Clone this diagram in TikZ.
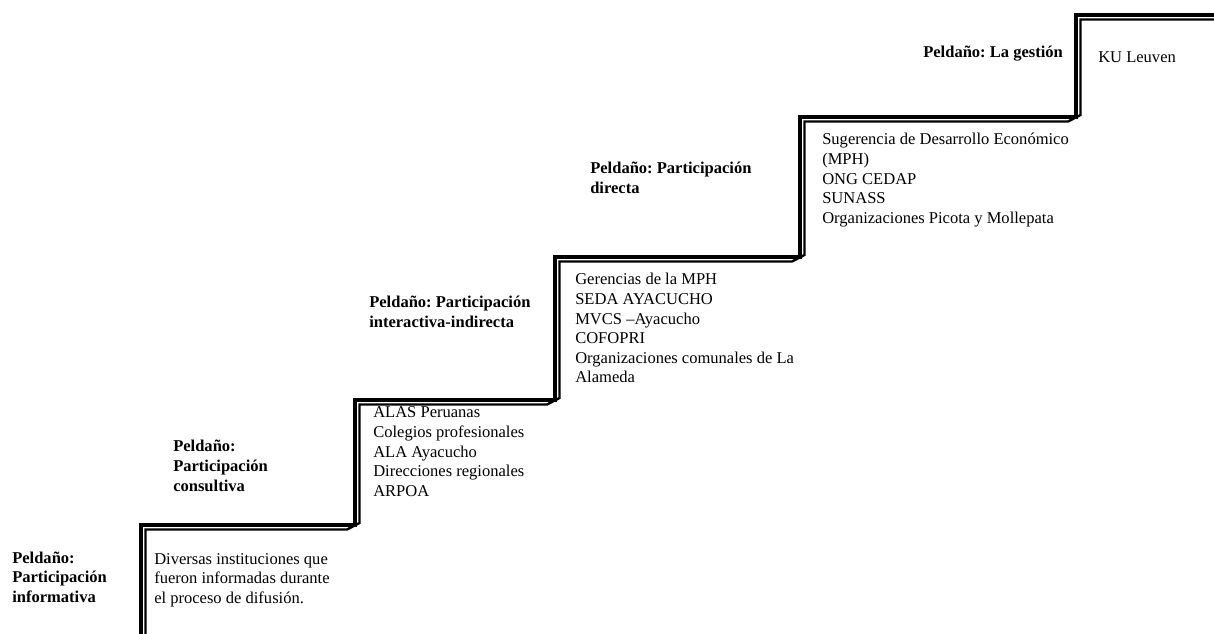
\documentclass[tikz,border=0pt]{standalone}
\usepackage{fontspec}
\setmainfont{Liberation Serif}
\frenchspacing
\newcommand{\stk}[1]{\begin{tabular}[t]{@{}l@{}}#1\end{tabular}}
\tikzset{
  txt/.style={anchor=base west, inner sep=0pt, font=\fontsize{12.4}{14.7}\selectfont},
  lab/.style={txt, font=\fontsize{12.4}{14.7}\selectfont\bfseries},
  outerline/.style={line width=3pt, line join=miter},
  innerline/.style={line width=1.8pt, line join=miter}
}
\begin{document}
\begin{tikzpicture}[x=0.75pt, y=-0.75pt]
\useasboundingbox (0,0) rectangle (1214,634);
\clip (0,0) rectangle (1214,634);
% staircase
\draw[outerline] (140.5,640) -- (140.5,525) -- (355,525) -- (355,400) -- (555,400)
  -- (555,257) -- (800,257) -- (800,117) -- (1076,117) -- (1076,15) -- (1220,15);
\draw[innerline] (145.5,640) -- (145.5,529.5) -- (347,529.5) -- (359.5,523) -- (359.5,404.5)
  -- (547,404.5) -- (559.5,398) -- (559.5,261.5) -- (792,261.5) -- (804.5,255)
  -- (804.5,121.5) -- (1068,121.5) -- (1080.5,115) -- (1080.5,19.5) -- (1220,19.5);
% texts
\node[lab] (l1) at (12,563) {\stk{Peldaño:\\Participación\\informativa}};
\node[txt] (t1) at (154,564) {\stk{Diversas instituciones que\\fueron informadas durante\\el proceso de difusión.}};
\node[lab] (l2) at (173,452) {\stk{Peldaño:\\Participación\\consultiva}};
\node[txt] (t2) at (373,418) {\stk{ALAS Peruanas\\Colegios profesionales\\ALA Ayacucho\\Direcciones regionales\\ARPOA}};
\node[lab] (l3) at (369,308) {\stk{Peldaño: Participación\\interactiva-indirecta}};
\node[txt] (t3) at (575,285) {\stk{Gerencias de la MPH\\SEDA AYACUCHO\\MVCS –Ayacucho\\COFOPRI\\Organizaciones comunales de La\\Alameda}};
\node[lab] (l4) at (590,174) {\stk{Peldaño: Participación\\directa}};
\node[txt] (t4) at (822,145) {\stk{Sugerencia de Desarrollo Económico\\(MPH)\\ONG CEDAP\\SUNASS\\Organizaciones Picota y Mollepata}};
\node[lab] (l5) at (923,58) {Peldaño: La gestión};
\node[txt] (t5) at (1098,63) {KU Leuven};
\end{tikzpicture}
\end{document}
